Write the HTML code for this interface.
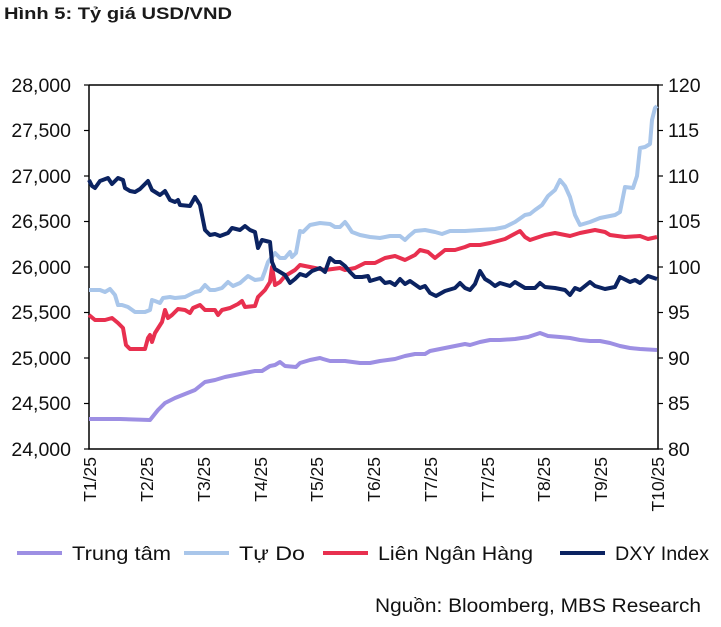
<!DOCTYPE html>
<html><head><meta charset="utf-8"><style>
body{margin:0;background:#fff;width:721px;height:622px;overflow:hidden}
</style></head><body>
<svg width="721" height="622" xmlns="http://www.w3.org/2000/svg" font-family="Liberation Sans, Arial, sans-serif">
<text x="4" y="19" font-size="17" font-weight="bold" fill="#1a1a1a" textLength="228" lengthAdjust="spacingAndGlyphs">Hình 5: Tỷ giá USD/VND</text>
<g stroke="#000" stroke-width="1.5" fill="none">
<polyline points="89,85 658,85 658,449 89,449 89,85"/>
</g>
<g stroke="#000" stroke-width="1.2">
<line x1="84" y1="85" x2="89" y2="85"/><line x1="84" y1="130.5" x2="89" y2="130.5"/><line x1="84" y1="176" x2="89" y2="176"/><line x1="84" y1="221.5" x2="89" y2="221.5"/><line x1="84" y1="267" x2="89" y2="267"/><line x1="84" y1="312.5" x2="89" y2="312.5"/><line x1="84" y1="358" x2="89" y2="358"/><line x1="84" y1="403.5" x2="89" y2="403.5"/><line x1="84" y1="449" x2="89" y2="449"/>
<line x1="658" y1="85" x2="663" y2="85"/><line x1="658" y1="130.5" x2="663" y2="130.5"/><line x1="658" y1="176" x2="663" y2="176"/><line x1="658" y1="221.5" x2="663" y2="221.5"/><line x1="658" y1="267" x2="663" y2="267"/><line x1="658" y1="312.5" x2="663" y2="312.5"/><line x1="658" y1="358" x2="663" y2="358"/><line x1="658" y1="403.5" x2="663" y2="403.5"/><line x1="658" y1="449" x2="663" y2="449"/>
</g>
<g font-size="19.5" fill="#111" text-anchor="end">
<text x="71" y="92">28,000</text><text x="71" y="137">27,500</text><text x="71" y="183">27,000</text><text x="71" y="228">26,500</text><text x="71" y="274">26,000</text><text x="71" y="319">25,500</text><text x="71" y="365">25,000</text><text x="71" y="410">24,500</text><text x="71" y="456">24,000</text>
</g>
<g font-size="19.5" fill="#111">
<text x="668" y="92">120</text><text x="668" y="137">115</text><text x="668" y="183">110</text><text x="668" y="228">105</text><text x="668" y="274">100</text><text x="668" y="319">95</text><text x="668" y="365">90</text><text x="668" y="410">85</text><text x="668" y="456">80</text>
</g>
<g font-size="17.5" fill="#111" text-anchor="end">
<text transform="translate(96,457) rotate(-90)">T1/25</text>
<text transform="translate(153,457) rotate(-90)">T2/25</text>
<text transform="translate(210,457) rotate(-90)">T3/25</text>
<text transform="translate(267,457) rotate(-90)">T4/25</text>
<text transform="translate(323,457) rotate(-90)">T5/25</text>
<text transform="translate(380,457) rotate(-90)">T6/25</text>
<text transform="translate(437,457) rotate(-90)">T7/25</text>
<text transform="translate(494,457) rotate(-90)">T7/25</text>
<text transform="translate(550,457) rotate(-90)">T8/25</text>
<text transform="translate(607,457) rotate(-90)">T9/25</text>
<text transform="translate(664,457) rotate(-90)">T10/25</text>
</g>
<g fill="none" stroke-width="4" stroke-linejoin="round">
<polyline stroke="#9d8fe3" points="89,419 100,419 120,419 150,420 158,410 165,403 175,398 185,394 195,390 205,382 215,380 225,377 240,374 255,371 262,371 270,366 275,365 280,362 285,366 296,367 300,363 310,360 320,358 323,359 330,361 345,361 360,363 370,363 380,361 395,359 405,356 415,354 425,354 430,351 440,349 455,346 465,344 470,345 480,342 490,340 500,340 515,339 528,337 540,333 548,336 560,337 570,338 580,340 590,341 600,341 610,343 620,346 630,348 640,349 657,350"/>
<polyline stroke="#a9c6ea" points="89,290 100,290 105,292 110,289 115,295 118,305 122,305 128,307 135,312 145,312 150,310 152,300 155,301 160,303 163,298 170,297 175,298 185,297 195,292 200,291 205,285 210,290 215,290 222,288 228,282 233,286 240,283 248,276 255,280 262,279 265,271 268,262 275,253 280,258 285,258 290,252 292,257 296,253 300,231 303,232 310,225 320,223 330,224 335,227 340,227 345,222 348,226 352,232 360,235 370,237 380,238 390,236 400,236 405,240 409,236 415,231 425,230 435,232 442,234 450,231 465,231 480,230 495,229 505,227 515,222 525,215 530,214 535,210 542,205 548,196 555,190 560,180 565,186 570,197 575,215 580,225 590,222 600,218 615,215 620,212 625,187 633,188 637,176 640,148 645,147 650,144 652,120 655,108 657,106"/>
<polyline stroke="#e8304f" points="89,315 95,320 105,320 112,318 118,323 123,328 126,345 130,349 145,349 148,338 150,335 152,342 155,333 162,322 165,310 168,318 172,315 178,309 185,310 190,313 193,308 200,305 205,310 215,310 218,315 222,310 230,308 238,304 242,301 245,307 255,306 258,297 265,290 270,282 272,267 275,285 280,282 285,276 295,270 300,265 315,268 325,270 340,268 345,270 355,268 365,263 375,263 385,258 395,256 405,260 415,255 420,250 428,252 435,258 445,250 455,250 465,247 470,245 480,245 490,243 505,239 520,231 525,237 530,240 545,235 555,233 570,236 580,233 595,230 605,232 610,235 625,237 640,236 648,239 657,237"/>
<polyline stroke="#0b2361" points="89,180 92,186 95,188 100,181 108,178 112,184 118,178 123,180 125,188 130,191 135,192 140,189 148,181 152,190 160,195 165,191 170,200 175,202 178,200 180,205 190,206 195,197 200,205 205,230 210,235 215,234 220,236 228,233 232,228 240,230 245,226 250,230 255,232 258,248 262,240 270,242 272,262 275,269 285,275 290,283 295,279 300,274 306,276 312,271 320,268 325,272 330,258 335,262 340,262 345,266 350,272 355,277 362,277 368,276 370,281 380,278 385,283 390,282 395,285 400,279 405,284 410,281 420,288 425,286 430,293 436,296 445,291 455,288 460,283 465,288 470,290 475,284 480,271 485,279 490,282 495,286 500,283 510,286 515,282 520,285 525,288 535,288 540,283 545,287 555,288 565,290 570,295 575,288 580,290 590,282 595,286 605,289 615,287 620,277 630,282 635,280 640,283 648,276 657,279"/>
</g>
<g stroke-width="4">
<line x1="17" y1="553" x2="62" y2="553" stroke="#9d8fe3"/>
<line x1="184" y1="553" x2="229" y2="553" stroke="#a9c6ea"/>
<line x1="323" y1="553" x2="368" y2="553" stroke="#e8304f"/>
<line x1="560" y1="553" x2="605" y2="553" stroke="#0b2361"/>
</g>
<g font-size="19.5" fill="#111">
<text x="72" y="560" textLength="99" lengthAdjust="spacingAndGlyphs">Trung tâm</text>
<text x="239" y="560" textLength="66" lengthAdjust="spacingAndGlyphs">Tự Do</text>
<text x="378" y="560" textLength="155" lengthAdjust="spacingAndGlyphs">Liên Ngân Hàng</text>
<text x="615" y="560" textLength="94" lengthAdjust="spacingAndGlyphs">DXY Index</text>
</g>
<text x="375" y="612" font-size="19" fill="#111" textLength="326" lengthAdjust="spacingAndGlyphs">Nguồn: Bloomberg, MBS Research</text>
</svg>
</body></html>
